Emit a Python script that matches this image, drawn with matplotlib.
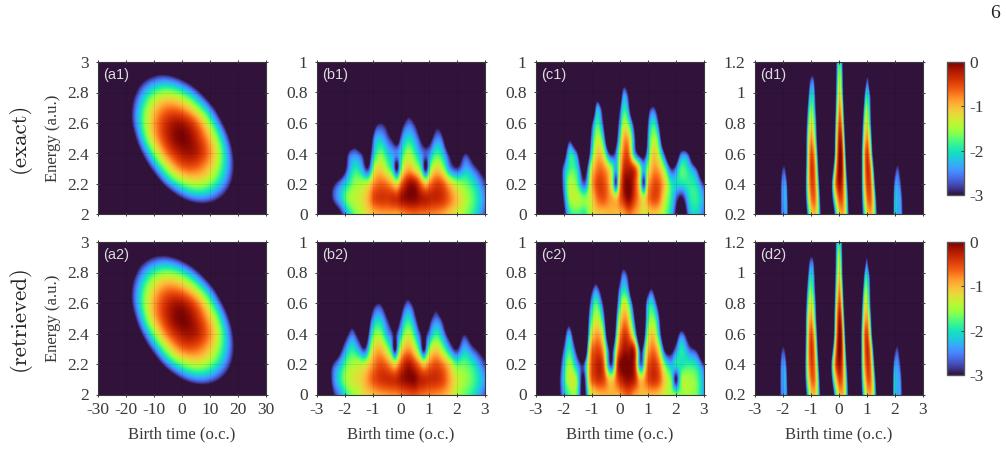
import numpy as np
import matplotlib
matplotlib.use('Agg')
import matplotlib.pyplot as plt

plt.rcParams['font.family'] = ['Liberation Serif', 'DejaVu Serif']
plt.rcParams['axes.unicode_minus'] = False

FIG_W, FIG_H = 1007, 449
INK = '#3a3a3a'

# log10 of the electron yield on coarse (time, energy) grids, rows run upward in energy
a_times = [-30, -24, -18, -12, -6, 0, 6, 12, 18, 24, 30]
a_energies = [2.0, 2.1, 2.2, 2.3, 2.4, 2.5, 2.6, 2.7, 2.8, 2.9, 3.0]
a_values = [
    [-19.9, -15.3, -11.6, -8.5, -6.3, -4.8, -4.1, -4.1, -4.9, -6.5, -8.8],
    [-17.0, -12.7, -9.2, -6.4, -4.3, -3.0, -2.5, -2.8, -3.8, -5.6, -8.1],
    [-14.6, -10.5, -7.1, -4.6, -2.7, -1.7, -1.4, -1.9, -3.1, -5.1, -7.9],
    [-12.5, -8.6, -5.5, -3.2, -1.6, -0.7, -0.7, -1.4, -2.8, -5.0, -8.0],
    [-10.9, -7.2, -4.3, -2.2, -0.8, -0.2, -0.3, -1.2, -2.9, -5.4, -8.6],
    [-9.6, -6.2, -3.5, -1.5, -0.4, 0.0, -0.4, -1.5, -3.4, -6.1, -9.5],
    [-8.7, -5.5, -3.0, -1.3, -0.4, -0.2, -0.8, -2.2, -4.3, -7.2, -10.8],
    [-8.3, -5.2, -3.0, -1.5, -0.8, -0.9, -1.7, -3.2, -5.6, -8.7, -12.5],
    [-8.2, -5.4, -3.4, -2.1, -1.6, -1.9, -2.9, -4.7, -7.2, -10.6, -14.7],
    [-8.5, -5.9, -4.1, -3.1, -2.8, -3.3, -4.5, -6.6, -9.3, -12.9, -17.2],
    [-9.2, -6.8, -5.3, -4.4, -4.4, -5.1, -6.6, -8.8, -11.8, -15.6, -20.0],
]

b_energies = [0, 0.1, 0.2, 0.3, 0.4, 0.5, 0.6, 0.7]
b1_times = [-3, -2.7, -2.45, -2.15, -1.9, -1.67, -1.4, -1.2, -0.95, -0.7, -0.45, -0.28, -0.15,
            -0.02, 0.25, 0.5, 0.74, 0.89, 1.02, 1.24, 1.5, 1.75, 2, 2.32, 2.65, 3]
b1_values = [
    [-5, -5, -4, -3, -2.2, -1.7, -1.4, -1.2, -1, -0.9, -0.9, -0.9, -0.9, -0.85, -0.7, -0.65, -0.7, -0.7, -0.75, -0.8, -0.9, -1.1, -1.3, -1.6, -2, -2.7],
    [-4.5, -4, -2.9, -2.2, -1.6, -1.4, -1.25, -1, -0.5, -0.4, -0.4, -0.35, -0.35, -0.2, -0.05, -0.05, -0.2, -0.25, -0.3, -0.3, -0.4, -0.7, -1.05, -1.45, -1.85, -2.5],
    [-4.5, -4, -3.2, -2.5, -2, -1.6, -1.5, -1.4, -0.8, -0.65, -0.8, -1.05, -1.3, -0.8, -0.2, -0.2, -0.75, -1.1, -0.8, -0.5, -0.6, -1.1, -1.5, -1.7, -2.1, -2.8],
    [-6, -6, -5, -4, -2.6, -2, -2.3, -3, -1.4, -1.2, -1.7, -2.2, -3.2, -1.9, -1, -1.3, -2, -3.2, -1.9, -1.2, -1.5, -2.5, -2.9, -2.3, -2.8, -3.6],
    [-6, -6, -6, -5, -3, -2.6, -3, -3.6, -2.1, -1.7, -2.2, -2.4, -2.5, -2.2, -1.5, -1.9, -2.5, -2.7, -2.5, -1.9, -2.2, -3.2, -3.8, -3, -4, -5],
    [-6, -6, -6, -6, -5, -4, -5, -4.5, -2.5, -2.3, -2.8, -3.2, -3.7, -2.8, -2.1, -2.4, -3.2, -3.8, -3.4, -2.6, -2.9, -5, -6, -5, -6, -6],
    [-6, -6, -6, -6, -6, -6, -6, -6, -3.5, -3, -3.5, -4.2, -5, -3.8, -2.7, -3.1, -4.2, -5, -4.5, -3.4, -4, -6, -6, -6, -6, -6],
    [-6, -6, -6, -6, -6, -6, -6, -6, -5, -4, -5, -5.5, -6, -5.5, -3.6, -4.5, -5.5, -6, -5.5, -5, -6, -6, -6, -6, -6, -6],
]
b2_times = [-3, -2.7, -2.45, -2.15, -1.95, -1.75, -1.5, -1.31, -1.05, -0.74, -0.5, -0.34, -0.22,
            -0.09, 0.25, 0.5, 0.68, 0.82, 0.95, 1.24, 1.5, 1.75, 1.95, 2.26, 2.6, 3]
b2_values = [
    [-5, -4.5, -3.1, -2.4, -1.9, -1.6, -1.4, -1.2, -1.05, -0.9, -0.85, -0.8, -0.8, -0.75, -0.6, -0.55, -0.65, -0.7, -0.75, -0.8, -0.9, -1.1, -1.4, -1.7, -2, -2.7],
    [-5, -4, -2.7, -1.9, -1.5, -1.3, -1.2, -1, -0.65, -0.4, -0.35, -0.35, -0.35, -0.25, -0.05, -0.05, -0.25, -0.3, -0.35, -0.35, -0.5, -0.9, -1.25, -1.5, -1.8, -2.4],
    [-5, -4, -2.95, -2.2, -1.7, -1.5, -1.4, -1.4, -0.9, -0.55, -0.7, -0.95, -1.2, -0.8, -0.2, -0.45, -0.8, -1.1, -0.85, -0.55, -0.75, -1.2, -1.7, -1.7, -2, -2.8],
    [-6, -5, -4.5, -3.1, -2.3, -1.95, -2.4, -2.9, -1.4, -1, -1.5, -2.1, -3.2, -1.9, -0.85, -1.3, -2.1, -3.2, -2, -1.15, -1.6, -2.4, -3, -2.25, -2.8, -3.6],
    [-6, -6, -5, -4, -3.2, -2.6, -3.4, -4, -2, -1.6, -2.3, -2.7, -3.1, -2.5, -1.4, -2, -2.8, -3.3, -2.8, -1.9, -2.4, -3.5, -4, -3, -4, -5],
    [-6, -6, -6, -5, -4.5, -3.6, -5, -5, -2.7, -2.2, -2.9, -3.6, -4.5, -3.4, -2, -2.7, -3.8, -5, -3.8, -2.6, -3.2, -5, -5, -4.5, -5, -6],
    [-6, -6, -6, -6, -6, -5, -6, -6, -3.7, -3, -4, -5, -6, -4.5, -2.7, -3.6, -5, -6, -5.5, -3.4, -5, -6, -6, -6, -6, -6],
    [-6, -6, -6, -6, -6, -6, -6, -6, -6, -4.5, -6, -6, -6, -6, -3.7, -6, -6, -6, -6, -5, -6, -6, -6, -6, -6, -6],
]

c_energies = [0, 0.1, 0.2, 0.3, 0.4, 0.5, 0.6, 0.7, 0.8, 0.9]
c1_times = [-3, -2.3, -2.08, -1.82, -1.55, -1.24, -1.05, -0.85, -0.6, -0.35, -0.25, -0.14, -0.05,
            0.1, 0.3, 0.55, 0.73, 0.85, 0.97, 1.15, 1.4, 1.6, 1.85, 2.2, 2.5, 2.75, 3]
c1_values = [
    [-6, -5, -3.7, -2.1, -1.8, -1.9, -1.4, -1.15, -1.1, -1, -1, -1, -1, -0.95, -0.7, -0.9, -1.1, -1.3, -1.2, -1.1, -1.2, -1.6, -2.2, -3.9, -2.3, -2.1, -2.6],
    [-6, -5, -3.3, -1.6, -1.4, -1.6, -1.3, -0.75, -0.55, -0.85, -0.95, -1.1, -0.8, -0.4, -0.05, -0.55, -1, -1.35, -0.9, -0.55, -0.65, -1.3, -2, -3.1, -2, -1.9, -2.4],
    [-6, -5, -3, -1.5, -1.7, -2.7, -1.2, -0.55, -0.5, -1.1, -1.7, -3.1, -1.4, -0.3, 0, -0.5, -1.5, -3.1, -1.3, -0.65, -0.6, -1.1, -2, -2, -1.9, -2.1, -3],
    [-6, -6, -3.1, -1.9, -2, -3.5, -1.5, -0.8, -0.75, -1.4, -1.8, -2.4, -1.6, -0.5, -0.25, -0.6, -1.6, -2.4, -1.7, -0.95, -1, -1.7, -3, -1.8, -2.2, -3, -5],
    [-6, -6, -4.5, -2.1, -2.7, -5, -2.4, -1.15, -1.35, -3.1, -3.1, -2.6, -1.8, -0.8, -0.6, -2.6, -3.4, -3.6, -2.5, -1.2, -1.6, -3, -5, -2.7, -3.3, -6, -6],
    [-6, -6, -6, -3.3, -5, -6, -2.9, -1.5, -2.1, -5, -4.4, -3.4, -2.4, -1.1, -1, -3, -5, -6, -2.9, -1.6, -2.2, -5, -6, -5, -6, -6, -6],
    [-6, -6, -6, -6, -6, -6, -3.6, -1.9, -2.9, -6, -5, -3.6, -2.9, -1.6, -1.8, -3.8, -6, -6, -3.3, -2, -3.1, -6, -6, -6, -6, -6, -6],
    [-6, -6, -6, -6, -6, -6, -6, -2.5, -3.6, -6, -5.5, -4, -3.5, -2.1, -2.5, -6, -6, -6, -4, -2.9, -4, -6, -6, -6, -6, -6, -6],
    [-6, -6, -6, -6, -6, -6, -6, -4, -6, -6, -6, -6, -5, -2.7, -3.2, -6, -6, -6, -6, -5, -6, -6, -6, -6, -6, -6, -6],
    [-6, -6, -6, -6, -6, -6, -6, -6, -6, -6, -6, -6, -6, -4, -5, -6, -6, -6, -6, -6, -6, -6, -6, -6, -6, -6, -6],
]
c2_times = [-3, -2.45, -2.15, -1.82, -1.55, -1.3, -1.1, -0.88, -0.6, -0.29, -0.1, 0.07,
            0.3, 0.55, 0.75, 0.95, 1.11, 1.4, 1.65, 1.85, 2, 2.16, 2.5, 2.8, 3]
c2_values = [
    [-6, -5, -3, -1.8, -1.7, -3.4, -1.6, -1.15, -1, -0.95, -1, -0.8, -0.6, -0.9, -1, -1.05, -1, -1.1, -1.4, -1.5, -1.6, -1.6, -1.5, -1.8, -2.4],
    [-6, -5, -2.9, -1.35, -1.6, -3.2, -1, -0.45, -0.45, -1.2, -0.55, -0.25, -0.1, -0.35, -1.1, -0.65, -0.4, -0.55, -1.3, -1.8, -3.1, -1.8, -1.5, -1.8, -2.4],
    [-6, -6, -3.2, -1.5, -2.3, -2.9, -0.95, -0.35, -0.5, -2.9, -0.45, 0, 0, -0.45, -2.8, -0.85, -0.45, -0.7, -1.9, -2.3, -2, -2, -1.9, -2.2, -2.9],
    [-6, -6, -3.8, -1.9, -3.2, -5, -1.3, -0.55, -0.9, -3.3, -1, -0.3, -0.2, -0.55, -3.2, -1.3, -0.75, -1.3, -3.4, -3.3, -2.6, -2, -2.7, -3.4, -5],
    [-6, -6, -5, -2.3, -4.5, -6, -2, -0.95, -1.5, -5, -1.6, -0.6, -0.6, -2.2, -5, -1.9, -1.1, -2.2, -5, -5, -3.7, -2.7, -4, -6, -6],
    [-6, -6, -6, -3.6, -6, -6, -2.5, -1.4, -2.2, -6, -2.2, -1, -1.1, -3.2, -6, -2.3, -1.6, -2.7, -6, -6, -5, -4.5, -6, -6, -6],
    [-6, -6, -6, -5, -6, -6, -3.1, -1.8, -3, -6, -2.9, -1.5, -1.7, -4, -6, -2.6, -2, -3.6, -6, -6, -6, -6, -6, -6, -6],
    [-6, -6, -6, -6, -6, -6, -4, -2.6, -4, -6, -3.4, -2.2, -2.6, -6, -6, -4, -3, -5, -6, -6, -6, -6, -6, -6, -6],
    [-6, -6, -6, -6, -6, -6, -6, -4, -6, -6, -4.5, -2.8, -3.3, -6, -6, -6, -5, -6, -6, -6, -6, -6, -6, -6, -6],
    [-6, -6, -6, -6, -6, -6, -6, -6, -6, -6, -6, -4, -5, -6, -6, -6, -6, -6, -6, -6, -6, -6, -6, -6, -6],
]

d_energies = [0.2, 0.3, 0.4, 0.5, 0.6, 0.7, 0.8, 0.9, 1.0, 1.1, 1.2]
d1_times = [-3, -2.2, -2.09, -1.98, -1.85, -1.74,
            -1.35, -1.19, -1.08, -0.97, -0.85, -0.75, -0.65, -0.51,
            -0.37, -0.26, -0.14, 0, 0.13, 0.24, 0.35, 0.49,
            0.66, 0.81, 0.92, 1.03, 1.15, 1.26, 1.36, 1.49,
            1.86, 1.95, 2.1, 2.28, 2.4, 3]
d2_times = [-3, -2.22, -2.11, -2, -1.87, -1.76,
            -1.37, -1.21, -1.1, -0.99, -0.87, -0.77, -0.67, -0.53,
            -0.39, -0.28, -0.16, -0.02, 0.11, 0.22, 0.33, 0.47,
            0.64, 0.79, 0.9, 1.01, 1.13, 1.24, 1.34, 1.47,
            1.84, 1.93, 2.08, 2.26, 2.38, 3]
d_values = [
    [-8, -8, -3.1, -2.5, -2.55, -5, -8, -3.8, -2, -1.2, -1, -1.6, -3, -6.6, -8, -5, -2.6, -1.25, -0.9, -1.4, -3, -6.5, -8, -3.6, -1.9, -1.1, -0.9, -1.5, -3, -6.2, -8, -3, -2.4, -3, -6, -8],
    [-8, -8, -3.1, -2.4, -2.7, -6, -8, -3.1, -1.35, -0.7, -0.7, -1.6, -3.6, -8, -7, -3.5, -1.6, -0.6, -0.6, -1.5, -3.4, -7.3, -8, -3.2, -1.4, -0.65, -0.65, -1.65, -3.7, -8, -8, -3.1, -2.35, -3.3, -7, -8],
    [-8, -8, -3.2, -2.45, -3.1, -7, -8, -2.9, -1.05, -0.5, -0.75, -2, -4.5, -8, -6.7, -3, -0.95, -0.15, -0.45, -1.75, -4.2, -8, -8, -3, -1.05, -0.45, -0.7, -2.3, -5.1, -8, -8, -3.5, -2.45, -4, -8, -8],
    [-8, -8, -4, -2.8, -4.2, -8, -8, -3.1, -1, -0.4, -0.9, -2.6, -5.9, -8, -8, -4.5, -1.5, -0.05, -0.35, -2.2, -5.9, -8, -8, -3, -0.9, -0.35, -1, -3.3, -7.2, -8, -8, -4.5, -2.8, -5, -8, -8],
    [-8, -8, -6, -3.9, -6, -8, -8, -3.3, -1.1, -0.55, -1.25, -3.3, -7, -8, -8, -7, -2.3, -0.15, -0.45, -3, -8, -8, -8, -3, -0.85, -0.5, -1.7, -4.8, -8, -8, -8, -6, -3.9, -6, -8, -8],
    [-8, -8, -8, -7, -8, -8, -8, -3.4, -1.3, -0.9, -1.8, -4.1, -8, -8, -8, -7.2, -2.6, -0.3, -0.8, -3.8, -8, -8, -8, -3.4, -1.2, -0.9, -2.3, -6, -8, -8, -8, -8, -7, -8, -8, -8],
    [-8, -8, -8, -7, -8, -8, -8, -3.8, -1.7, -1.3, -2.2, -4.4, -8, -8, -8, -8, -3, -0.6, -1.3, -4.7, -8, -8, -8, -4, -1.55, -1.35, -3, -7, -8, -8, -8, -8, -7, -8, -8, -8],
    [-8, -8, -8, -7, -8, -8, -8, -4.5, -2.2, -1.7, -2.7, -5.2, -8, -8, -8, -8, -3.4, -0.9, -1.8, -5.7, -8, -8, -8, -5.1, -2.1, -1.7, -3.3, -7.6, -8, -8, -8, -8, -7, -8, -8, -8],
    [-8, -8, -8, -7, -8, -8, -8, -6, -2.9, -2.1, -3.1, -6, -8, -8, -8, -8, -3.7, -1.25, -2.4, -6.8, -8, -8, -8, -7.5, -3, -2.15, -3.9, -8, -8, -8, -8, -8, -7, -8, -8, -8],
    [-8, -8, -8, -7, -8, -8, -8, -8, -4, -2.85, -3.9, -7, -8, -8, -8, -8, -3.9, -1.5, -2.7, -6.9, -8, -8, -8, -8, -5, -2.85, -7, -8, -8, -8, -8, -8, -7, -8, -8, -8],
    [-8, -8, -8, -7, -8, -8, -8, -8, -7, -4.5, -7, -8, -8, -8, -8, -8, -3.9, -1.9, -3, -6.9, -8, -8, -8, -8, -8, -4.5, -8, -8, -8, -8, -8, -8, -7, -8, -8, -8],
]

a_ticks_x = [-30, -20, -10, 0, 10, 20, 30]
cycle_ticks_x = [-3, -2, -1, 0, 1, 2, 3]
a_ticks_y = [2, 2.2, 2.4, 2.6, 2.8, 3]
bc_ticks_y = [0, 0.2, 0.4, 0.6, 0.8, 1]
d_ticks_y = [0.2, 0.4, 0.6, 0.8, 1, 1.2]
cbar_ticks = [0, -1, -2, -3]

row_tops = [62, 242]
row_height = 152.5
col_lefts = [98, 317, 536, 755]
col_width = 167.5


def px_axes(fig, left, top, width, height):
    return fig.add_axes([left / FIG_W, 1 - (top + height) / FIG_H, width / FIG_W, height / FIG_H])


def box_smooth(grid, size, axis):
    if size < 2:
        return grid
    kernel = np.ones(size) / size
    pad = size // 2

    def run(line):
        padded = np.pad(line, pad, mode='edge')
        return np.convolve(padded, kernel, mode='same')[pad:-pad]
    return np.apply_along_axis(run, axis, grid)


def hermite(x_new, x, y):
    # cubic Hermite through the table points, with slopes from finite differences
    x = np.asarray(x, dtype=float)
    y = np.asarray(y, dtype=float)
    x_new = np.clip(x_new, x[0], x[-1])
    m = np.gradient(y, x)
    i = np.clip(np.searchsorted(x, x_new) - 1, 0, len(x) - 2)
    h = x[i + 1] - x[i]
    s = (x_new - x[i]) / h
    return ((2 * s**3 - 3 * s**2 + 1) * y[i] + (s**3 - 2 * s**2 + s) * h * m[i]
            + (-2 * s**3 + 3 * s**2) * y[i + 1] + (s**3 - s**2) * h * m[i + 1])


def refine(times, energies, values, xlim, ylim, smooth_t, smooth_e):
    # resample the coarse table on a fine grid and round off what kinks remain
    fine_t = np.linspace(xlim[0], xlim[1], 400)
    fine_e = np.linspace(ylim[0], ylim[1], 360)
    by_row = np.array([hermite(fine_t, times, row) for row in values])
    grid = np.array([hermite(fine_e, energies, by_row[:, j]) for j in range(by_row.shape[1])]).T
    for _ in range(2):
        grid = box_smooth(grid, smooth_t, 1)
        grid = box_smooth(grid, smooth_e, 0)
    return grid


def draw_panel(ax, times, energies, values, xlim, ylim, xticks, yticks, tag, show_x, smooth_t, smooth_e):
    grid = refine(times, energies, values, xlim, ylim, smooth_t, smooth_e)
    im = ax.imshow(grid, extent=[xlim[0], xlim[1], ylim[0], ylim[1]], origin='lower', aspect='auto',
                   cmap='turbo', vmin=-3, vmax=0, interpolation='bilinear')
    ax.set_xlim(xlim)
    ax.set_ylim(ylim)
    ax.set_xticks(xticks)
    ax.set_yticks(yticks)
    ax.set_yticklabels([f'{v:g}' for v in yticks])
    if show_x:
        ax.set_xticklabels([f'{v:g}' for v in xticks])
        ax.set_xlabel('Birth time (o.c.)', fontsize=12, color=INK, va='center')
        ax.xaxis.set_label_coords(0.5, -0.262)
    else:
        ax.set_xticklabels([])
    ax.tick_params(direction='inout', length=3.5, width=0.7, top=True, right=True, color=INK,
                   labelcolor=INK, labelsize=12.5)
    ax.tick_params(axis='y', pad=5)
    ax.tick_params(axis='x', pad=4)
    ax.grid(True, color='black', alpha=0.09, linewidth=0.6)
    ax.set_axisbelow(False)
    for spine in ax.spines.values():
        spine.set_color(INK)
        spine.set_linewidth(0.8)
    ax.text(0.03, 0.915, tag, transform=ax.transAxes, family='Liberation Sans', fontsize=10.5,
            color='#dcdcdc', va='center', ha='left')
    return im


fig = plt.figure(figsize=(FIG_W / 100, FIG_H / 100), dpi=100)

panels = [
    [(a_times, a_energies, a_values, (-30, 30), (2, 3), a_ticks_x, a_ticks_y, '(a1)', 7, 7),
     (b1_times, b_energies, b1_values, (-3, 3), (0, 1), cycle_ticks_x, bc_ticks_y, '(b1)', 5, 5),
     (c1_times, c_energies, c1_values, (-3, 3), (0, 1), cycle_ticks_x, bc_ticks_y, '(c1)', 5, 5),
     (d1_times, d_energies, d_values, (-3, 3), (0.2, 1.2), cycle_ticks_x, d_ticks_y, '(d1)', 3, 7)],
    [(a_times, a_energies, a_values, (-30, 30), (2, 3), a_ticks_x, a_ticks_y, '(a2)', 7, 7),
     (b2_times, b_energies, b2_values, (-3, 3), (0, 1), cycle_ticks_x, bc_ticks_y, '(b2)', 5, 5),
     (c2_times, c_energies, c2_values, (-3, 3), (0, 1), cycle_ticks_x, bc_ticks_y, '(c2)', 5, 5),
     (d2_times, d_energies, d_values, (-3, 3), (0.2, 1.2), cycle_ticks_x, d_ticks_y, '(d2)', 3, 7)],
]

for row, top in enumerate(row_tops):
    for col, left in enumerate(col_lefts):
        ax = px_axes(fig, left, top, col_width, row_height)
        times, energies, values, xlim, ylim, xticks, yticks, tag, st, se = panels[row][col]
        im = draw_panel(ax, times, energies, values, xlim, ylim, xticks, yticks, tag, row == 1, st, se)
        if col == 0:
            ax.set_ylabel('Energy (a.u.)', fontsize=12, color=INK, va='center')
            ax.yaxis.set_label_coords(-0.27, 0.5)
    cax = px_axes(fig, 947, top, 17, 133)
    cbar = fig.colorbar(im, cax=cax)
    cbar.set_ticks(cbar_ticks)
    cbar.set_ticklabels([f'{v:g}' for v in cbar_ticks])
    cbar.ax.tick_params(direction='in', length=2.5, width=0.7, color=INK, labelcolor=INK, labelsize=12.5, pad=4)
    cbar.outline.set_edgecolor('#555555')
    cbar.outline.set_linewidth(1.0)

# row captions and page number
fig.text(19 / FIG_W, 1 - 138 / FIG_H, '(exact)', rotation=90, family='cmr10', fontsize=16.5,
         color='#222222', ha='center', va='center')
fig.text(19 / FIG_W, 1 - 318 / FIG_H, '(retrieved)', rotation=90, family='cmr10', fontsize=16.5,
         color='#222222', ha='center', va='center')
fig.text(995 / FIG_W, 1 - 14 / FIG_H, '6', fontsize=14, color='#222222', ha='center', va='center')

fig.savefig('out.png', dpi=100)
